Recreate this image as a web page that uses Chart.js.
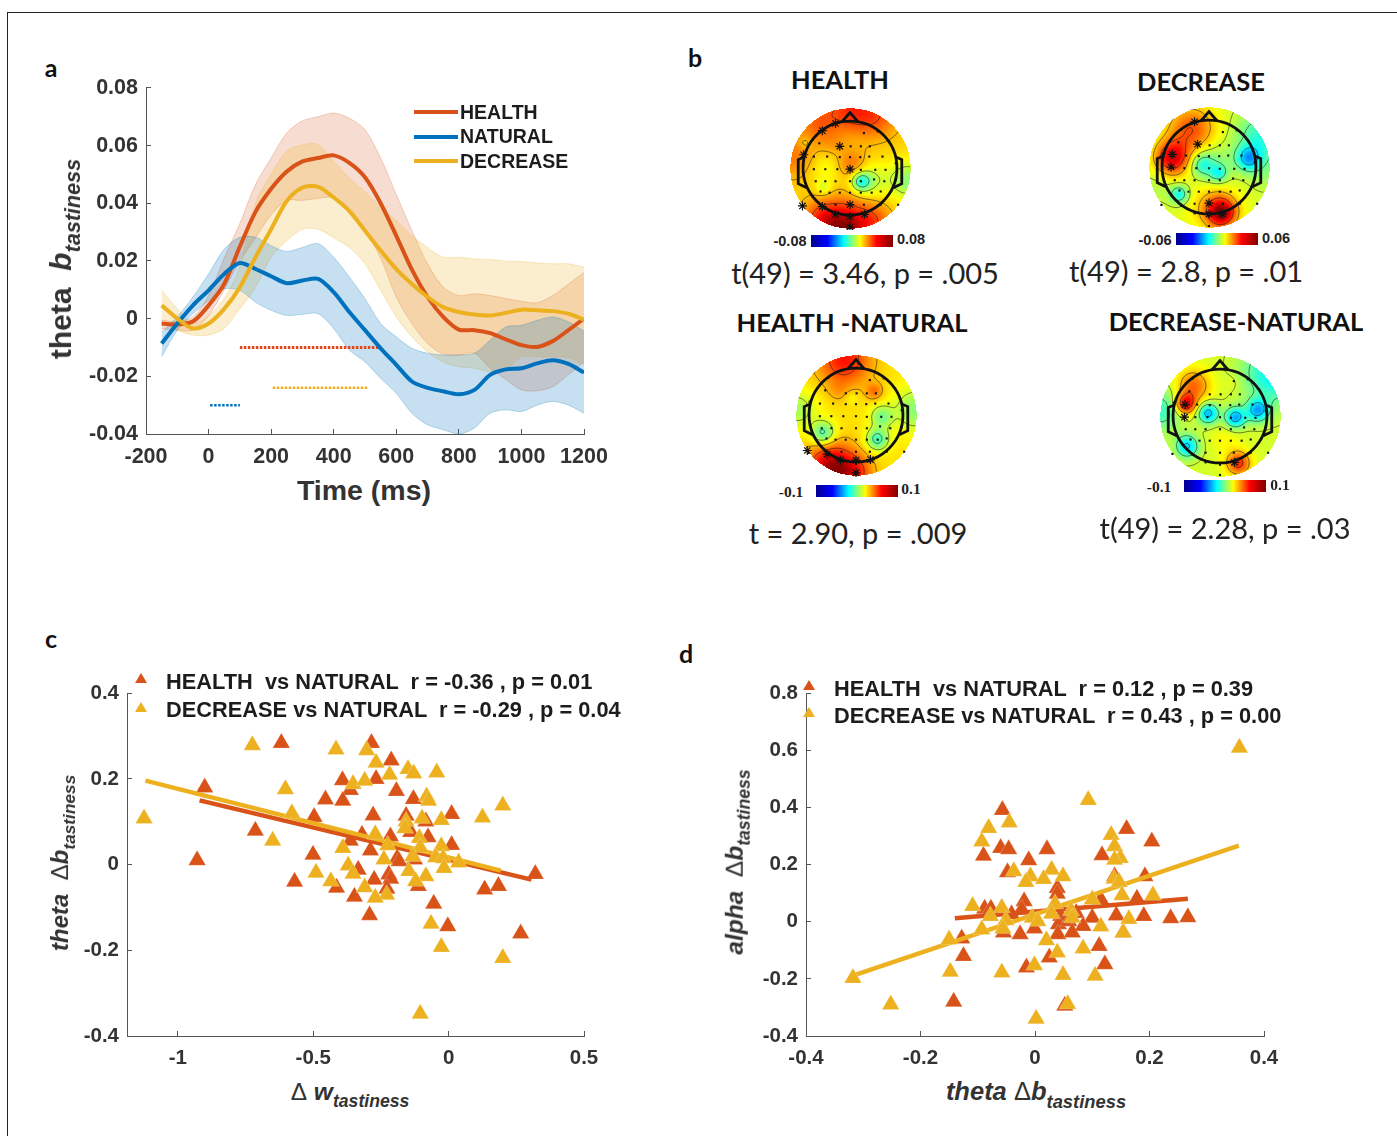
<!DOCTYPE html>
<html>
<head>
<meta charset="utf-8">
<title>theta b tastiness</title>
<script src="https://cdn.jsdelivr.net/npm/chart.js@4"></script>
<style>
  html, body { margin: 0; background: #fff; }
  body { position: relative; width: 1397px; height: 1136px; overflow: hidden; font-family: "Liberation Sans", Arial, sans-serif; }
  canvas { position: absolute; }
  .t { position: absolute; white-space: pre; line-height: 1; color: #333; }
  .t sub { font-size: 0.72em; vertical-align: -0.42em; line-height: 0; }
  .mid { transform: translate(-50%, -50%); }
  .rot { transform: translate(-50%, -50%) rotate(-90deg); }
  .b { font-weight: bold; }
  .i { font-style: italic; }
  .letter { font-family: Lato, sans-serif; font-weight: bold; font-size: 25px; color: #111; }
  .head { font-family: Lato, sans-serif; font-weight: bold; font-size: 25.5px; color: #111; }
  .stat { font-family: Lato, sans-serif; font-size: 29px; color: #222; }
  .leg { font-weight: bold; color: #1c1c1c; }
  .swatch { position: absolute; width: 44px; height: 4px; }
  .tri { position: absolute; width: 0; height: 0; border-left: 6px solid transparent; border-right: 6px solid transparent; border-bottom: 10px solid; }
  .cbar { position: absolute; width: 82px; height: 12px; background: linear-gradient(90deg, #00008f, #0000ff, #00ffff, #ffff00, #ff0000, #800000); }
  .cb { font-weight: bold; font-size: 14.5px; color: #222; }
  .cbs { font-family: "Liberation Serif", serif; font-weight: bold; font-size: 15.5px; color: #222; }
</style>
</head>
<body>
<div style="position:absolute;left:7px;top:12px;width:1390px;height:1124px;border-left:1px solid #222;border-top:1px solid #222"></div>

<div class="t letter mid" style="left:51px;top:67px">a</div>
<div class="t letter mid" style="left:695px;top:57px">b</div>
<div class="t letter mid" style="left:51px;top:638px">c</div>
<div class="t letter mid" style="left:686px;top:653px">d</div>

<!-- a -->
<canvas id="chartA" width="560" height="408" style="left:66px;top:62px"></canvas>
<div class="t b rot" style="left:61px;top:259px;font-size:30px">theta  <span class="i">b<sub>tastiness</sub></span></div>
<div class="t b mid" style="left:364px;top:490px;font-size:28.5px">Time (ms)</div>
<div class="swatch" style="left:414px;top:110px;background:#D95319"></div>
<div class="swatch" style="left:414px;top:135px;background:#0072BD"></div>
<div class="swatch" style="left:414px;top:159px;background:#EDB120"></div>
<div class="t leg" style="left:460px;top:103px;font-size:19.5px">HEALTH</div>
<div class="t leg" style="left:460px;top:127px;font-size:19.5px">NATURAL</div>
<div class="t leg" style="left:460px;top:152px;font-size:19.5px">DECREASE</div>

<!-- b -->
<div class="t head mid" style="left:840px;top:80px">HEALTH</div>
<div class="t head mid" style="left:1201px;top:82px">DECREASE</div>
<div class="t head mid" style="left:852px;top:323px">HEALTH -NATURAL</div>
<div class="t head mid" style="left:1236px;top:322px">DECREASE-NATURAL</div>
<canvas id="topoHealth" width="124" height="124" style="left:788px;top:106px"></canvas>
<canvas id="topoDecrease" width="124" height="124" style="left:1147px;top:105px"></canvas>
<canvas id="topoHealthNat" width="124" height="124" style="left:794px;top:353px"></canvas>
<canvas id="topoDecreaseNat" width="124" height="124" style="left:1158px;top:354px"></canvas>
<div class="cbar" style="left:811px;top:235px"></div>
<div class="cbar" style="left:1176px;top:233px"></div>
<div class="cbar" style="left:816px;top:485px"></div>
<div class="cbar" style="left:1184px;top:480px"></div>
<div class="t cb mid" style="left:790px;top:241px">-0.08</div>
<div class="t cb mid" style="left:911px;top:239px">0.08</div>
<div class="t cb mid" style="left:1155px;top:240px">-0.06</div>
<div class="t cb mid" style="left:1276px;top:238px">0.06</div>
<div class="t cbs mid" style="left:791px;top:492px">-0.1</div>
<div class="t cbs mid" style="left:911px;top:489px">0.1</div>
<div class="t cbs mid" style="left:1159px;top:487px">-0.1</div>
<div class="t cbs mid" style="left:1280px;top:485px">0.1</div>
<div class="t stat mid" style="left:865px;top:272px">t(49) = 3.46, p = .005</div>
<div class="t stat mid" style="left:1186px;top:270px">t(49) = 2.8, p = .01</div>
<div class="t stat mid" style="left:858px;top:532px">t = 2.90, p = .009</div>
<div class="t stat mid" style="left:1225px;top:527px">t(49) = 2.28, p = .03</div>

<!-- c -->
<canvas id="chartC" width="560" height="408" style="left:67px;top:668px"></canvas>
<div class="t b i rot" style="left:60px;top:863px;font-size:24px">theta  <span style="font-style:normal;font-weight:normal">Δ</span>b<sub>tastiness</sub></div>
<div class="t b mid" style="left:350px;top:1092px;font-size:24.5px"><span style="font-weight:normal">Δ</span> <span class="i">w<sub>tastiness</sub></span></div>
<div class="tri" style="left:135px;top:673px;color:#D95319"></div>
<div class="tri" style="left:135px;top:702px;color:#EDB120"></div>
<div class="t leg" style="left:166px;top:671px;font-size:21.8px">HEALTH  vs NATURAL  r = -0.36 , p = 0.01</div>
<div class="t leg" style="left:166px;top:699px;font-size:21.8px">DECREASE vs NATURAL  r = -0.29 , p = 0.04</div>

<!-- d -->
<canvas id="chartD" width="560" height="408" style="left:746px;top:668px"></canvas>
<div class="t b i rot" style="left:735px;top:862px;font-size:24.5px">alpha  <span style="font-style:normal;font-weight:normal">Δ</span>b<sub>tastiness</sub></div>
<div class="t b i mid" style="left:1036px;top:1092px;font-size:25.5px">theta <span style="font-style:normal;font-weight:normal">Δ</span>b<sub>tastiness</sub></div>
<div class="tri" style="left:803px;top:680px;color:#D95319"></div>
<div class="tri" style="left:803px;top:707px;color:#EDB120"></div>
<div class="t leg" style="left:834px;top:678px;font-size:21.8px">HEALTH  vs NATURAL  r = 0.12 , p = 0.39</div>
<div class="t leg" style="left:834px;top:705px;font-size:21.8px">DECREASE vs NATURAL  r = 0.43 , p = 0.00</div>

<script>
// ================= COLORS =================
const orange = "#D95319";
const blue = "#0072BD";
const yellow = "#EDB120";

// ================= PANEL A DATA =================
const times = [-150,-100,-50,0,50,100,150,200,250,300,350,400,450,500,550,600,650,700,750,800,850,900,950,1000,1050,1100,1150,1200];
const healthMean = [-0.0017,-0.002,-0.001,0.0046,0.012,0.025,0.037,0.045,0.051,0.0545,0.0557,0.0566,0.054,0.049,0.04,0.0287,0.017,0.0075,0.0006,-0.0038,-0.004,-0.005,-0.0072,-0.0092,-0.0098,-0.0078,-0.004,0];
const healthUpper = [-0.0006,-0.001,0.0006,0.008,0.021,0.033,0.0465,0.0557,0.0644,0.0686,0.07,0.0713,0.0695,0.0655,0.0557,0.043,0.0305,0.019,0.011,0.008,0.0086,0.008,0.007,0.006,0.0055,0.008,0.012,0.016];
const healthLower = [-0.0035,-0.004,-0.004,0.001,0.01,0.02,0.028,0.036,0.041,0.041,0.0417,0.042,0.0385,0.031,0.021,0.0075,-0.0017,-0.0086,-0.0123,-0.0126,-0.012,-0.0172,-0.021,-0.0247,-0.025,-0.0236,-0.0195,-0.015];
const naturalMean = [-0.0086,-0.0017,0.0046,0.0098,0.0155,0.0193,0.0172,0.0147,0.0123,0.0132,0.0138,0.0092,0.0023,-0.004,-0.0103,-0.016,-0.0218,-0.024,-0.0252,-0.0262,-0.0247,-0.0195,-0.0176,-0.0172,-0.0155,-0.0144,-0.0157,-0.0187];
const naturalUpper = [-0.0046,0.0006,0.0075,0.0155,0.0241,0.0282,0.0282,0.0253,0.0233,0.0247,0.026,0.0213,0.0144,0.0069,-0.0017,-0.0063,-0.0103,-0.012,-0.0126,-0.0126,-0.012,-0.0075,-0.0029,-0.0023,-0.0006,0.0006,-0.0011,-0.0043];
const naturalLower = [-0.0132,-0.004,0.0017,0.0063,0.0103,0.0098,0.0057,0.0029,0.0011,0.0015,0.0017,-0.0034,-0.0109,-0.015,-0.0207,-0.0259,-0.0328,-0.0368,-0.0385,-0.04,-0.0379,-0.0328,-0.0316,-0.0322,-0.03,-0.0287,-0.03,-0.0328];
const decreaseMean = [0.0046,0,-0.0034,-0.0017,0.0034,0.0109,0.0213,0.031,0.0408,0.0454,0.0457,0.042,0.0373,0.0305,0.0236,0.0172,0.012,0.0075,0.004,0.0023,0.0014,0.0011,0.002,0.0031,0.0029,0.0026,0.0017,-0.0003];
const decreaseUpper = [0.0098,0.0034,-0.0017,0.001,0.007,0.018,0.04,0.05,0.058,0.0603,0.0603,0.0546,0.0488,0.044,0.0385,0.034,0.0287,0.0247,0.0213,0.0213,0.0207,0.0205,0.02,0.0198,0.0193,0.019,0.019,0.0178];
const decreaseLower = [0,-0.004,-0.0057,-0.0057,-0.0034,0.0034,0.0109,0.0213,0.027,0.031,0.031,0.028,0.0247,0.019,0.0098,0.0006,-0.0063,-0.0115,-0.015,-0.0167,-0.0172,-0.0184,-0.0175,-0.0132,-0.0132,-0.0132,-0.0135,-0.016];
const healthSigX = [100,550];
const decreaseSigX = [205,510];
const naturalSigX = [5,100];
const healthSigY = -0.01;
const decreaseSigY = -0.024;
const naturalSigY = -0.03;
const aXTicks = [-200,0,200,400,600,800,1000,1200];
const aYTicks = [-0.04,-0.02,0,0.02,0.04,0.06,0.08];

// ================= PANEL C DATA =================
const cHealth = [[-.618,.284],[-.285,.284],[-.212,.243],[-.392,.197],[-.268,.2],[-.901,.18],[-.363,.174],[-.193,.172],[-.455,.152],[-.391,.149],[-.13,.153],[-.497,.111],[-.279,.115],[-.157,.114],[.011,.118],[-.084,.101],[-.714,.079],[-.14,.076],[-.32,.07],[-.215,.066],[-.076,.064],[-.363,.056],[.011,.046],[-.289,.033],[-.501,.023],[-.929,.01],[-.19,.015],[-.126,.012],[-.334,-.012],[-.569,-.04],[-.275,-.035],[-.221,-.023],[-.214,-.033],[-.112,-.05],[-.414,-.054],[-.228,-.056],[-.348,-.075],[-.055,-.091],[-.292,-.118],[-.003,-.144],[.266,-.161],[.133,-.058],[.184,-.05],[.32,-.022],[-.183,.008]];
const cDecrease = [[-.725,.279],[-.416,.269],[-.303,.267],[-.268,.238],[-.218,.21],[-.15,.223],[-.129,.213],[-.044,.215],[-.353,.188],[-.31,.196],[-.603,.176],[-.081,.159],[-.074,.149],[.2,.138],[-.579,.12],[-1.125,.108],[.125,.11],[-.098,.108],[-.027,.104],[-.157,.101],[-.161,.085],[-.271,.071],[-.108,.062],[-.65,.056],[-.225,.045],[-.391,.039],[-.027,.043],[-.105,.04],[-.239,.012],[-.133,.019],[-.048,.017],[-.02,.015],[.037,.005],[-.371,-.002],[-.017,-.008],[-.49,-.019],[-.353,-.021],[-.147,-.015],[-.435,-.039],[-.084,-.027],[-.122,-.039],[-.31,-.053],[-.229,-.07],[-.271,-.077],[-.065,-.138],[-.027,-.192],[.2,-.218],[-.105,-.348]];
const cHealthFit = [[-.92,.15],[.306,-.035]];
const cDecreaseFit = [[-1.12,.196],[.193,-.014]];
const cXTicks = [-1,-0.5,0,0.5];
const cYTicks = [-0.4,-0.2,0,0.2,0.4];

// ================= PANEL D DATA =================
const dHealth = [[-.057,.391],[.16,.325],[.204,.281],[-.06,.258],[-.046,.254],[.021,.254],[-.09,.231],[.117,.233],[-.011,.215],[-.048,.173],[.139,.159],[.192,.159],[.039,.118],[.039,.098],[-.019,.072],[.115,.078],[.178,.081],[-.088,.046],[-.077,.046],[-.023,.043],[-.041,.026],[.045,.02],[.072,.031],[.1,.014],[.142,.022],[.19,.02],[.237,.012],[.267,.016],[.041,-.009],[.059,.002],[.084,-.015],[-.055,-.038],[-.026,-.044],[-.001,-.024],[.04,-.044],[.065,-.038],[-.128,-.059],[.112,-.085],[-.125,-.12],[.025,-.125],[.122,-.149],[-.015,-.16],[-.142,-.28],[.052,-.294],[.154,-.038]];
const dDecrease = [[.357,.609],[.093,.426],[-.045,.348],[-.081,.328],[.133,.304],[-.093,.281],[.139,.264],[.149,.223],[.139,.217],[-.037,.177],[.029,.182],[-.008,.159],[.049,.159],[.015,.15],[-.016,.139],[.138,.151],[.147,.139],[.152,.093],[.206,.093],[.1,.078],[.035,.063],[-.109,.055],[-.058,.049],[.063,.039],[.029,.028],[-.078,.02],[.065,.014],[-.005,.014],[.005,.002],[-.051,.005],[.164,.01],[.115,-.017],[-.093,-.027],[-.056,-.024],[.154,-.038],[-.15,-.062],[.02,-.065],[.084,-.094],[.039,-.108],[-.001,-.152],[-.148,-.175],[-.058,-.178],[.049,-.186],[.105,-.189],[-.318,-.197],[-.252,-.29],[.057,-.288],[.002,-.34]];
const dHealthFit = [[-.14,.012],[.267,.081]];
const dDecreaseFit = [[-.318,-.189],[.356,.267]];
const dXTicks = [-0.4,-0.2,0,0.2,0.4];
const dYTicks = [-0.4,-0.2,0,0.2,0.4,0.6,0.8];

// ================= PANEL B DATA (scalp coords, blob = x, y, amount, spread) =================
const electrodes = [[.23,.58],[.46,.61],[-.51,.41],[.01,.36],[.18,.36],[.33,.36],[.65,.44],[-.6,.19],[-.38,.19],[-.17,.18],[0,.18],[.17,.18],[.32,.19],[.54,.19],[-.6,-.02],[-.41,-.02],[-.21,-.02],[.18,-.03],[.42,-.03],[.59,-.03],[.76,.08],[-.57,-.22],[-.41,-.22],[-.24,-.22],[0,-.22],[.18,-.22],[.4,-.19],[.57,-.22],[.76,-.19],[-.49,-.39],[-.34,-.41],[-.17,-.41],[0,-.41],[.18,-.41],[.36,-.41],[.51,-.39],[-.63,-.47],[-.24,-.61],[.23,-.61],[.51,-.61],[.8,-.61],[-.24,.74],[-.46,.62],[-.17,.36],[-.77,.22],[0,-.02],[-.79,-.63],[-.46,-.64],[0,-.61],[-.24,-.77],[0,-.81],[.24,-.77],[0,-.98]];
const healthStars = [[-.24,.74],[-.46,.62],[-.17,.36],[-.77,.22],[0,-.02],[-.79,-.63],[-.46,-.64],[0,-.61],[-.24,-.77],[0,-.81],[.24,-.77],[0,-.98]];
const decreaseStars = [[-.19,.38],[-.61,.21],[-.63,0],[0,-.6],[0,-.78],[.22,-.78],[-.24,.75]];
const healthNatStars = [[-.81,-.59],[-.48,-.65],[-.26,-.75],[0,-.75],[.24,-.74],[0,-.96]];
const decreaseNatStars = [[-.58,.19],[-.59,-.02],[.24,-.77]];
const healthBlobs = [[0,1,.32,.3],[-.55,.75,.2,.22],[.45,.85,.2,.25],[-.1,-1,.62,.3],[-.5,-.85,.22,.22],[.4,-.85,.18,.2],[-.95,.2,.18,.25],[.02,.07,.2,.17],[.18,-.22,-.42,.11],[.33,-.2,-.2,.2],[.95,-.2,-.3,.22],[-.45,-.32,-.15,.09],[-.4,0,-.1,.2],[-.75,.42,-.1,.07],[-.3,.4,.08,.15]];
const decreaseBlobs = [[-.62,.15,.62,.2],[-.3,.62,.42,.28],[.2,-.75,.7,.17],[.05,-.62,.2,.28],[.65,.15,-.5,.14],[.88,.5,-.36,.3],[.92,-.1,-.1,.2],[-.12,.05,-.28,.13],[.15,-.1,-.3,.1],[.05,.05,-.18,.25],[-.5,-.45,-.4,.11],[-.88,-.3,-.08,.2]];
const healthNatBlobs = [[-.2,.92,.42,.3],[-.4,-.88,.65,.28],[0,-.95,.25,.2],[-.98,.1,-.22,.22],[.98,.1,-.28,.25],[-.55,-.3,-.42,.14],[.35,-.4,-.42,.13],[.42,-.02,-.3,.13],[.3,.4,.22,.1],[-.3,.4,.08,.12],[-.08,.3,-.08,.08]];
const decreaseNatBlobs = [[.9,.72,-.45,.35],[.62,.1,-.55,.13],[-.2,.05,-.55,.12],[.25,-.02,-.58,.12],[-.55,-.5,-.5,.13],[-.98,.1,-.3,.25],[-.58,.2,.6,.12],[-.45,.5,.38,.2],[.3,-.78,.5,.14],[.1,-.4,.08,.18],[.2,.55,.06,.1]];
const contourLevels = [-.55,-.3,-.05,.15,.38,.6];

// ================= AXES =================
function axis(ticks, min, max, font, gap, size, position) {
  return {
    type: "linear", position, min, max,
    afterBuildTicks: s => { s.ticks = ticks.map(value => ({ value })); },
    afterFit: s => { if (position === "left") s.width = size; else s.height = size; },
    border: { display: true, color: "#555", width: 1 },
    grid: { drawOnChartArea: false, drawTicks: true, tickLength: -5, color: "#555" },
    ticks: { color: "#333", font: { family: "Liberation Sans", weight: "bold", size: font }, padding: gap, autoSkip: false, maxRotation: 0, callback: v => String(v) }
  };
}

function baseOptions(x, y, padding) {
  return {
    responsive: false,
    animation: false,
    layout: { padding, autoPadding: false },
    plugins: { legend: { display: false }, tooltip: { enabled: false } },
    scales: { x, y }
  };
}

function pts(xs, ys) { return xs.map((x, i) => ({ x, y: ys[i] })); }
function xy(list) { return list.map(p => ({ x: p[0], y: p[1] })); }

// ================= PANEL A =================
function band(upper, lower, color, fillColor, order) {
  return [
    { data: pts(times, upper), borderColor: color, borderWidth: 1, fill: "+1", backgroundColor: fillColor, pointRadius: 0, tension: 0.3, order },
    { data: pts(times, lower), borderColor: color, borderWidth: 1, fill: false, pointRadius: 0, tension: 0.3, order }
  ];
}
function meanLine(vals, color, order) {
  return { data: pts(times, vals), borderColor: color, borderWidth: 4, fill: false, pointRadius: 0, tension: 0.3, order };
}
function sigLine(xs, yVal, color, width) {
  return { data: xs.map(x => ({ x, y: yVal })), borderColor: color, borderWidth: width, borderDash: [2.5, 1.5], fill: false, pointRadius: 0, order: 5 };
}

new Chart(document.getElementById("chartA"), {
  type: "line",
  data: {
    datasets: [
      meanLine(decreaseMean, yellow, 1),
      meanLine(naturalMean, blue, 2),
      meanLine(healthMean, orange, 3),
      sigLine(healthSigX, healthSigY, "#E0471A", 3),
      sigLine(decreaseSigX, decreaseSigY, yellow, 2.5),
      sigLine(naturalSigX, naturalSigY, blue, 2.5),
      ...band(healthUpper, healthLower, "rgba(217,83,25,0.25)", "rgba(217,83,25,0.2)", 8),
      ...band(decreaseUpper, decreaseLower, "rgba(237,177,32,0.25)", "rgba(237,177,32,0.22)", 7),
      ...band(naturalUpper, naturalLower, "rgba(0,114,189,0.25)", "rgba(0,114,189,0.22)", 6)
    ]
  },
  options: baseOptions(
    axis(aXTicks, -200, 1200, 21.5, 15, 36, "bottom"),
    axis(aYTicks, -0.04, 0.08, 21.5, 13, 80, "left"),
    { left: 0, top: 0, right: 42, bottom: 0 }
  )
});

// ================= PANELS C, D =================
function scatterSet(list, color, radius, order) {
  return { type: "scatter", data: xy(list), pointStyle: "triangle", pointRadius: radius, backgroundColor: color, borderColor: "rgba(255,255,255,0.35)", borderWidth: 0.6, order };
}
function fitLine(list, color, order) {
  return { type: "line", data: xy(list), borderColor: color, borderWidth: 4.5, pointRadius: 0, fill: false, order };
}

new Chart(document.getElementById("chartC"), {
  data: {
    datasets: [
      scatterSet(cDecrease, yellow, 10, 1),
      fitLine(cDecreaseFit, yellow, 2),
      fitLine(cHealthFit, orange, 3),
      scatterSet(cHealth, orange, 10, 4)
    ]
  },
  options: baseOptions(
    axis(cXTicks, -1.188, 0.5, 20.5, 15, 40, "bottom"),
    axis(cYTicks, -0.4, 0.4, 20.5, 13, 60, "left"),
    { left: 0, top: 0, right: 43, bottom: 0 }
  )
});

new Chart(document.getElementById("chartD"), {
  data: {
    datasets: [
      scatterSet(dDecrease, yellow, 10, 1),
      fitLine(dDecreaseFit, yellow, 2),
      fitLine(dHealthFit, orange, 3),
      scatterSet(dHealth, orange, 10, 4)
    ]
  },
  options: baseOptions(
    axis(dXTicks, -0.4, 0.4, 20.5, 15, 40, "bottom"),
    axis(dYTicks, -0.4, 0.8, 20.5, 13, 60, "left"),
    { left: 0, top: 0, right: 42, bottom: 0 }
  )
});

// ================= PANEL B =================
function jet(v) {
  const t = (Math.max(-1, Math.min(1, v)) + 1) / 2;
  const c = k => Math.round(255 * Math.max(0, Math.min(1, 1.5 - Math.abs(4 * t - k))));
  return [c(3), c(2), c(1)];
}

function fieldAt(blobs, base, x, y) {
  let v = base;
  blobs.forEach(b => {
    const d2 = (x - b[0]) ** 2 + (y - b[1]) ** 2;
    v += b[2] * Math.exp(-d2 / (2 * b[3] * b[3]));
  });
  return v;
}

const topoPlugin = {
  id: "topo",
  beforeDatasetsDraw(chart, args, opts) {
    const { ctx, chartArea: a, scales: { x: sx, y: sy } } = chart;
    const w = Math.round(a.right - a.left), h = Math.round(a.bottom - a.top);
    const off = document.createElement("canvas");
    off.width = w; off.height = h;
    const oc = off.getContext("2d");
    const img = oc.createImageData(w, h);
    const grid = [];
    for (let j = 0; j < h; j++) {
      const row = [];
      for (let i = 0; i < w; i++) {
        const x = sx.getValueForPixel(a.left + i), y = sy.getValueForPixel(a.top + j);
        const v = fieldAt(opts.blobs, opts.base, x, y);
        row.push(v);
        if (x * x + y * y <= 1) {
          const c = jet(v), k = (j * w + i) * 4;
          img.data[k] = c[0]; img.data[k + 1] = c[1]; img.data[k + 2] = c[2]; img.data[k + 3] = 255;
        }
      }
      grid.push(row);
    }
    oc.putImageData(img, 0, 0);
    ctx.drawImage(off, a.left, a.top);

    // contour lines, marching squares on the same grid
    ctx.save();
    ctx.beginPath();
    ctx.ellipse(sx.getPixelForValue(0), sy.getPixelForValue(0), sx.getPixelForValue(1) - sx.getPixelForValue(0), sy.getPixelForValue(-1) - sy.getPixelForValue(0), 0, 0, Math.PI * 2);
    ctx.clip();
    ctx.strokeStyle = "rgba(20,20,20,0.75)";
    ctx.lineWidth = 0.7;
    ctx.beginPath();
    const step = 2;
    contourLevels.forEach(l => {
      for (let j = 0; j + step < h; j += step) {
        for (let i = 0; i + step < w; i += step) {
          const q = [grid[j][i], grid[j][i + step], grid[j + step][i + step], grid[j + step][i]];
          const c = [[i, j], [i + step, j], [i + step, j + step], [i, j + step]];
          const hits = [];
          for (let e = 0; e < 4; e++) {
            const p = q[e], r = q[(e + 1) % 4];
            if ((p < l) !== (r < l)) {
              const f = (l - p) / (r - p), n = c[(e + 1) % 4];
              hits.push([c[e][0] + f * (n[0] - c[e][0]), c[e][1] + f * (n[1] - c[e][1])]);
            }
          }
          if (hits.length >= 2) {
            ctx.moveTo(a.left + hits[0][0], a.top + hits[0][1]);
            ctx.lineTo(a.left + hits[1][0], a.top + hits[1][1]);
          }
        }
      }
    });
    ctx.stroke();
    ctx.restore();

    // head, nose, ears
    const px = v => sx.getPixelForValue(v), py = v => sy.getPixelForValue(v);
    ctx.save();
    ctx.strokeStyle = "#111";
    ctx.lineWidth = 2.8;
    ctx.beginPath();
    ctx.arc(px(0), py(0), px(0.78) - px(0), 0, Math.PI * 2);
    ctx.stroke();
    ctx.beginPath();
    ctx.moveTo(px(-0.14), py(0.76));
    ctx.lineTo(px(0), py(0.92));
    ctx.lineTo(px(0.14), py(0.76));
    ctx.stroke();
    [-1, 1].forEach(s => {
      ctx.beginPath();
      ctx.moveTo(px(s * 0.77), py(0.18));
      ctx.lineTo(px(s * 0.86), py(0.14));
      ctx.lineTo(px(s * 0.86), py(-0.26));
      ctx.lineTo(px(s * 0.72), py(-0.33));
      ctx.stroke();
    });
    ctx.restore();
  }
};

function topo(id, blobs, base, stars) {
  new Chart(document.getElementById(id), {
    type: "scatter",
    data: {
      datasets: [
        { data: xy(stars), pointStyle: "star", pointRadius: 4.5, borderColor: "#111", borderWidth: 1.2, backgroundColor: "#111", order: 1 },
        { data: xy(electrodes), pointStyle: "rect", pointRadius: 1.5, borderWidth: 0, backgroundColor: "#111", order: 2 }
      ]
    },
    options: {
      responsive: false,
      animation: false,
      layout: { padding: 0, autoPadding: false },
      plugins: { legend: { display: false }, tooltip: { enabled: false }, topo: { blobs, base } },
      scales: {
        x: { type: "linear", display: false, min: -1.03, max: 1.03 },
        y: { type: "linear", display: false, min: -1.03, max: 1.03 }
      }
    },
    plugins: [topoPlugin]
  });
}

topo("topoHealth", healthBlobs, 0.33, healthStars);
topo("topoDecrease", decreaseBlobs, 0.18, decreaseStars);
topo("topoHealthNat", healthNatBlobs, 0.3, healthNatStars);
topo("topoDecreaseNat", decreaseNatBlobs, 0.17, decreaseNatStars);
</script>
</body>
</html>
